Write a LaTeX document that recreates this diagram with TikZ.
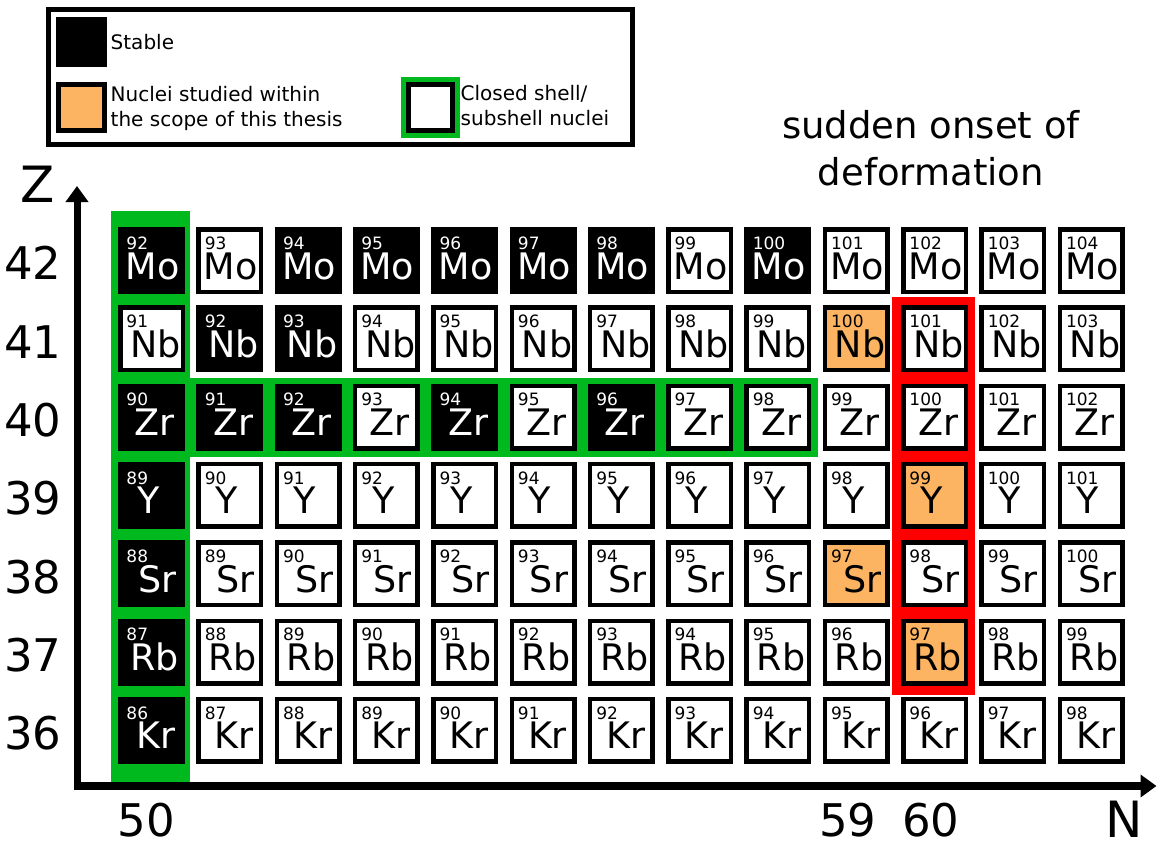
\documentclass[tikz,border=0pt]{standalone}
\usepackage{fontspec}
\setmainfont{DejaVu Sans}
\usetikzlibrary{arrows.meta}

\definecolor{studied}{HTML}{FDB462}
\definecolor{shellgreen}{RGB}{0,185,30}
\definecolor{onsetred}{RGB}{255,0,0}

\tikzset{
  nuc/.style={draw=black, line width=4.5pt, minimum size=62.5pt, inner sep=0pt, outer sep=0pt},
  massnum/.style={font=\fontsize{17}{17}\selectfont, inner sep=0pt, anchor=base west},
  elsym/.style={font=\fontsize{36.5}{36.5}\selectfont, inner sep=0pt, anchor=base},
  axislabel/.style={font=\fontsize{45}{45}\selectfont, inner sep=0pt, anchor=base},
  axisname/.style={font=\fontsize{50}{50}\selectfont, inner sep=0pt, anchor=base},
  axisline/.style={line width=#1, -{Triangle[width=22pt,length=16pt]}},
  legtext/.style={font=\fontsize{20}{20}\selectfont, inner sep=0pt, anchor=base west},
  titletext/.style={font=\fontsize{37}{37}\selectfont, inner sep=0pt, anchor=base},
}

% stable nuclei, given as Z-N
\foreach \z/\n in {42/50,42/52,42/53,42/54,42/55,42/56,42/58,
                   41/51,41/52,
                   40/50,40/51,40/52,40/54,40/56,
                   39/50,38/50,37/50,36/50}{%
  \expandafter\gdef\csname st-\z-\n\endcsname{}}
% nuclei studied in this work
\foreach \z/\n in {41/59,39/60,38/59,37/60}{%
  \expandafter\gdef\csname sd-\z-\n\endcsname{}}

\begin{document}
\begin{tikzpicture}[x=1pt,y=-1pt]
\useasboundingbox (0,0) rectangle (1157,843);

% closed shell N=50 and subshell Z=40 bands
\fill[shellgreen] (111,211) rectangle (190,782);
\fill[shellgreen] (190,378) rectangle (818,457);
% N=60 region of sudden deformation
\fill[onsetred] (892,297) rectangle (975,695);

% chart of nuclides
\foreach \r/\Z/\sym/\dx in {0/42/Mo/1, 1/41/Nb/4, 2/40/Zr/3.5, 3/39/Y/-3,
                             4/38/Sr/6, 5/37/Rb/3, 6/36/Kr/4.5}{
  \foreach \c in {0,...,12}{
    \pgfmathtruncatemacro\N{50+\c}
    \pgfmathtruncatemacro\A{\Z+\N}
    \def\boxfill{white}\def\txtcol{black}
    \ifcsname st-\Z-\N\endcsname\def\boxfill{black}\def\txtcol{white}\fi
    \ifcsname sd-\Z-\N\endcsname\def\boxfill{studied}\fi
    \node[nuc, fill=\boxfill] (n\Z-\N) at (151.5+78.3*\c, 260.5+78.3*\r) {};
    \node[massnum, text=\txtcol] (a\Z-\N) at ([xshift=6pt,yshift=-20pt]n\Z-\N.north west) {\A};
    \node[elsym, text=\txtcol] (s\Z-\N) at ([xshift=\dx pt,yshift=-18.5pt]n\Z-\N.center) {\sym};
  }
  \node[axislabel] (z\Z) at (33, 260.5+78.3*\r+19.3) {\Z};
}

% axes
\coordinate (yaxbot) at (77,790);
\coordinate (yaxtop) at (77,186);
\coordinate (xaxleft) at (74,786);
\coordinate (xaxright) at (1156.5,786);
\draw[axisline=7pt] (yaxbot) -- (yaxtop);
\draw[axisline=8pt] (xaxleft) -- (xaxright);
\node[axisname] (zname) at (37.5,202) {Z};
\node[axisname] (nname) at (1124,837) {N};
\node[axislabel] (n50) at (146.5,836) {50};
\node[axislabel] (n59) at (848,836) {59};
\node[axislabel] (n60) at (931,836) {60};

% title of the N=60 region
\node[titletext] (title1) at (931,138) {sudden onset of};
\node[titletext] (title2) at (931,185) {deformation};

% legend
\node[draw=black, line width=5pt, minimum width=584.5pt, minimum height=135pt,
      inner sep=0pt, anchor=north west] (legend) at (45.5,7) {};
\node[fill=black, minimum width=50.7pt, minimum height=50pt, inner sep=0pt] (legstable) at (81.3,41.7) {};
\node[legtext] (legstabletxt) at (110.5,50) {Stable};
\node[draw=black, line width=5pt, fill=studied, minimum width=45.7pt, minimum height=46.6pt,
      inner sep=0pt] (legstudied) at (81.3,107.5) {};
\node[legtext] (legstudied1) at (110.5,101.7) {Nuclei studied within};
\node[legtext] (legstudied2) at (110.5,126) {the scope of this thesis};
\node[fill=shellgreen, minimum width=59.3pt, minimum height=61.6pt, inner sep=0pt] (legshell) at (430.3,107.5) {};
\node[draw=black, line width=5pt, fill=white, minimum width=44.3pt, minimum height=46.6pt,
      inner sep=0pt] (legshellin) at (430.3,107.5) {};
\node[legtext] (legshell1) at (460.5,100.7) {Closed shell/};
\node[legtext] (legshell2) at (460.5,125) {subshell nuclei};
\end{tikzpicture}
\end{document}
